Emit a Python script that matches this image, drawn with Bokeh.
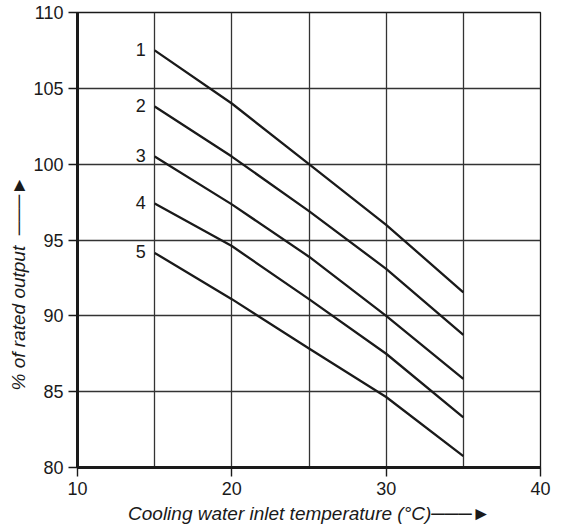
from bokeh.plotting import figure
from bokeh.models import Title, FixedTicker, ColumnDataSource
from bokeh.core.properties import value
from bokeh.embed import file_html
from bokeh.resources import INLINE

# ---- data ----
temps = [15, 20, 25, 30, 35]
curve_1 = [107.5, 104.0, 100.0, 96.0, 91.55]
curve_2 = [103.8, 100.5, 96.9, 93.1, 88.75]
curve_3 = [100.5, 97.35, 93.9, 90.0, 85.85]
curve_4 = [97.4, 94.6, 91.1, 87.5, 83.3]
curve_5 = [94.15, 91.1, 87.85, 84.65, 80.75]
curve_names = ["1", "2", "3", "4", "5"]
x_ticks = [10, 20, 30, 40]
x_grid = [15, 20, 25, 30, 35]
y_ticks = [80, 85, 90, 95, 100, 105, 110]
y_grid = [85, 90, 95, 100, 105]
x_label = "Cooling water inlet temperature (°C)"
y_label = "% of rated output"
ARROW = "\u2500\u2500\u2500\u25BA"

FONT = "Liberation Sans"
INK = "#1a1a1a"

p = figure(width=562, height=528, x_range=(10, 40), y_range=(80, 110),
           output_backend="svg", toolbar_location=None,
           min_border_left=77, min_border_right=22,
           min_border_top=12, min_border_bottom=61)
p.background_fill_color = "white"
p.border_fill_color = "white"
p.outline_line_color = INK
p.outline_line_width = 1.3

# axes
for ax in (p.xaxis[0], p.yaxis[0]):
    ax.axis_line_width = 3
    ax.axis_line_color = INK
    ax.major_tick_out = 9
    ax.major_tick_in = 0
    ax.major_tick_line_width = 1.4
    ax.major_tick_line_color = INK
    ax.minor_tick_out = 0
    ax.minor_tick_in = 0
    ax.major_label_text_font = FONT
    ax.major_label_text_font_size = "18px"
    ax.major_label_text_color = INK
    ax.major_label_standoff = 5
p.xaxis.ticker = FixedTicker(ticks=x_ticks)
p.yaxis.ticker = FixedTicker(ticks=y_ticks)

# grid
p.xgrid.ticker = FixedTicker(ticks=x_grid)
p.ygrid.ticker = FixedTicker(ticks=y_grid)
for g in (p.xgrid[0], p.ygrid[0]):
    g.grid_line_color = "#333333"
    g.grid_line_width = 1.3

# curves
curves = [curve_1, curve_2, curve_3, curve_4, curve_5]
for vals in curves:
    p.line(temps, vals, line_color=INK, line_width=2.3)

# curve numbers
src = ColumnDataSource(dict(x=[temps[0]] * len(curves),
                            y=[c[0] for c in curves],
                            t=curve_names))
p.text(x="x", y="y", text="t", source=src, text_align="right",
       text_baseline="middle", x_offset=-9, y_offset=-1,
       text_font=value(FONT), text_font_size="18px", text_color=INK)

# axis titles with arrows (placed in side panels)
p.add_layout(Title(text=x_label + ARROW, align="right", offset=50,
                   standoff=6, text_font=FONT, text_font_style="italic",
                   text_font_size="19px", text_color=INK), "below")
p.add_layout(Title(text=y_label + "\u00a0\u00a0" + ARROW, align="left",
                   offset=77, standoff=3, text_font=FONT,
                   text_font_style="italic", text_font_size="19px",
                   text_color=INK), "left")

open("out.html", "w").write(file_html(p, INLINE))
